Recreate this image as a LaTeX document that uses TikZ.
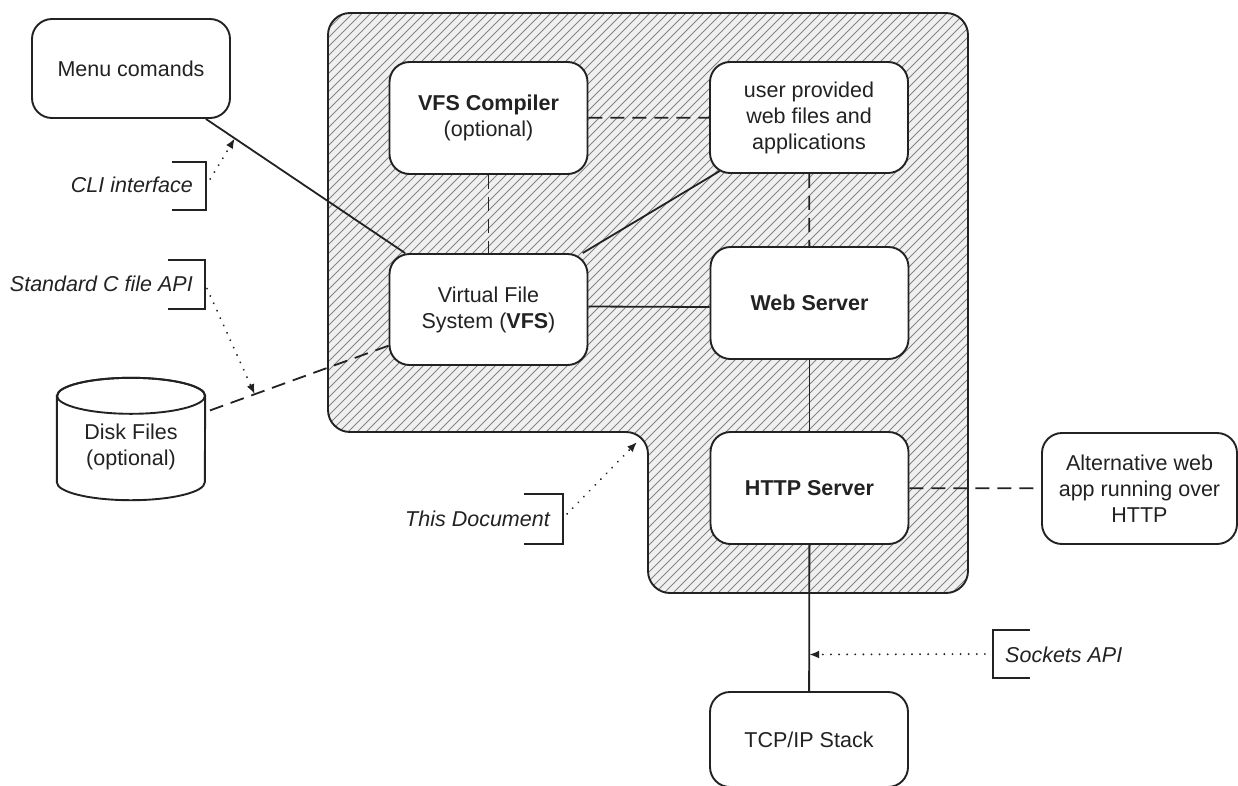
\documentclass[tikz,border=0pt]{standalone}
\usepackage{fontspec}
\setmainfont{Liberation Sans}
\usetikzlibrary{calc,arrows.meta}
\definecolor{ink}{HTML}{222222}
\definecolor{hatchbg}{HTML}{F0F0F0}
\definecolor{hatchline}{HTML}{848484}
\newcommand\labfont{\fontsize{21.5}{26}\selectfont}

\begin{document}
\begin{tikzpicture}[x=1pt,y=-1pt,
  comp/.style={draw=ink, line width=1.9pt, rounded corners=20pt, fill=white,
    minimum width=198pt, minimum height=112pt, align=center, font=\labfont,
    text=ink, inner sep=2pt},
  link/.style={draw=ink, line width=1.8pt},
  optlink/.style={link, dash pattern=on 14pt off 8pt},
  brk/.style={minimum height=48pt, inner sep=0pt, outer sep=0pt},
  brkline/.style={draw=ink, line width=1.8pt},
  note/.style={font=\labfont\itshape, text=ink, inner sep=0pt},
  pointer/.style={draw=ink, line width=2pt, line cap=round,
    dash pattern=on 0.1pt off 8pt, -{Latex[length=10pt,width=8pt]}},
]
\clip (0,0) rectangle (1238,785);

% shaded region: the part covered by this document
\def\regionpath{(328,13) -- (968,13) -- (968,593) -- (648,593) -- (648,432) -- (328,432) -- cycle}
\begin{scope}
  \fill[hatchbg, rounded corners=22pt] \regionpath;
  \clip[rounded corners=22pt] \regionpath;
  \foreach \a in {-290,-281,...,950}
    \draw[hatchline, line width=1pt] (\a,620) -- ++(620,-620);
\end{scope}
\draw[ink, line width=1.9pt, rounded corners=22pt] \regionpath;
\coordinate (notch) at (648,432);

% components
\node[comp, minimum height=99pt] (menu) at (131,68.5) {Menu comands};
\node[comp] (vfsc) at (488.5,118) {\textbf{VFS Compiler}\\(optional)};
\node[comp, minimum height=111pt] (user) at (809,117.5) {user provided\\web files and\\applications};
\node[comp, minimum height=111pt] (vfs) at (488.5,309.5) {Virtual File\\System (\textbf{VFS})};
\node[comp] (web) at (809.5,303) {\textbf{Web Server}};
\node[comp] (http) at (809.5,488) {\textbf{HTTP Server}};
\node[comp, minimum width=195pt, minimum height=111pt] (alt) at (1139.5,488.5) {Alternative web\\app running over\\HTTP};
\node[comp, minimum height=95pt] (tcp) at (809,739.5) {TCP/IP Stack};

% disk storage drawn as a cylinder
\node[minimum width=148pt, minimum height=122pt, inner sep=0pt] (disk) at (131,439) {};
\filldraw[draw=ink, fill=white, line width=1.9pt]
  ($(disk.north west)+(0,18)$) -- ($(disk.south west)+(0,-18)$)
  arc[start angle=180, end angle=0, x radius=74, y radius=18]
  -- ($(disk.north east)+(0,18)$)
  arc[start angle=0, end angle=-180, x radius=74, y radius=18] -- cycle;
\draw[ink, line width=1.9pt] ($(disk.north)+(0,18)$) ellipse[x radius=74, y radius=18];
\node[font=\labfont, text=ink, align=center, inner sep=0pt] at (131,447) {Disk Files\\(optional)};

% connections
\draw[link] (menu) -- coordinate[pos=0.145] (clitip) (vfs);
\draw[link, shorten >=-6pt] (vfs) -- (user);
\draw[link] ($(vfs.east)+(0,-3)$) -- ($(web.west)+(0,4)$);
\draw[link] (web) -- (http);
\draw[link] (http) -- coordinate[pos=0.75] (socktip) (tcp);
\draw[optlink] (vfsc) -- (user);
\draw[optlink] (vfsc) -- (vfs);
\draw[optlink] (user) -- (web);
\draw[optlink] (http) -- (alt);
\draw[optlink] (vfs) -- coordinate[pos=0.73] (stdtip) (disk);
\coordinate (doctip) at ($(notch)+(-11,10)$);

% annotations
\node[brk, minimum width=34pt] (clibr) at (189,186) {};
\draw[brkline] (clibr.north west) -- (clibr.north east) -- (clibr.south east) -- (clibr.south west);
\node[note, anchor=east] at (193,185) {CLI interface};
\draw[pointer] (clibr.east) -- (clitip);

\node[brk, minimum width=37pt, minimum height=49pt] (stdbr) at (186.5,284.5) {};
\draw[brkline] (stdbr.north west) -- (stdbr.north east) -- (stdbr.south east) -- (stdbr.south west);
\node[note, anchor=east] at (193,284) {Standard C file API};
\draw[pointer] ($(stdbr.east)+(2,4)$) -- (stdtip);

\node[brk, minimum width=39pt, minimum height=50pt] (docbr) at (543.5,519) {};
\draw[brkline] (docbr.north west) -- (docbr.north east) -- (docbr.south east) -- (docbr.south west);
\node[note, anchor=east] at (550,519) {This Document};
\draw[pointer] ($(docbr.east)+(4,-5)$) -- (doctip);

\node[brk, minimum width=37pt] (sockbr) at (1011.5,654) {};
\draw[brkline] (sockbr.north east) -- (sockbr.north west) -- (sockbr.south west) -- (sockbr.south east);
\node[note, anchor=west] at (1005,655) {Sockets API};
\draw[pointer] (sockbr.west) -- (socktip);
\end{tikzpicture}
\end{document}
